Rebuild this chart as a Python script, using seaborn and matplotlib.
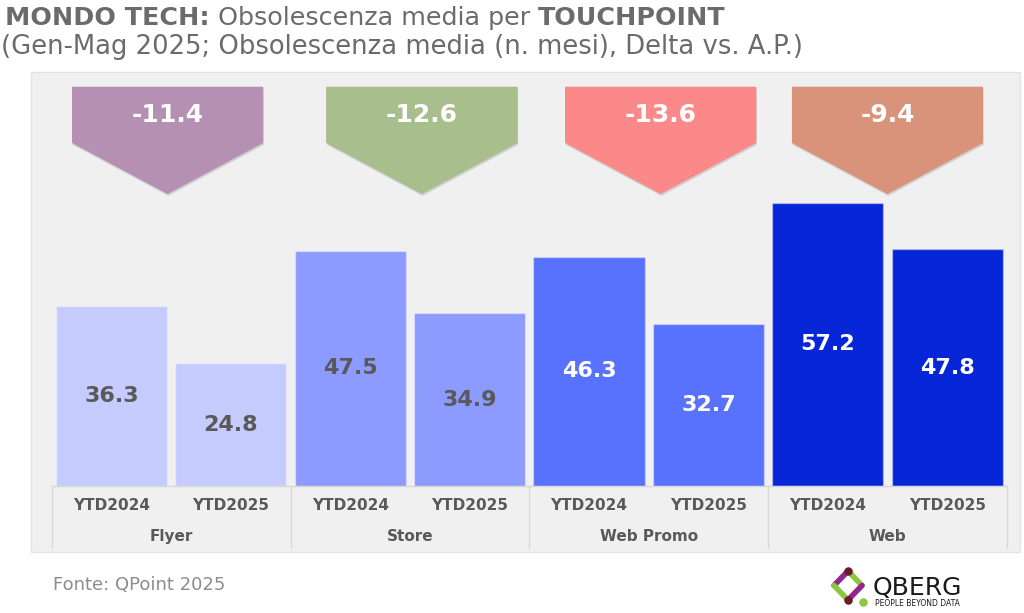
import matplotlib
matplotlib.use("Agg")
import matplotlib.pyplot as plt
import matplotlib.patheffects as pe
from matplotlib.patches import Polygon, Rectangle
import seaborn as sns
import pandas as pd

# dati
touchpoints = ["Flyer", "Store", "Web Promo", "Web"]
periods = ["YTD2024", "YTD2025"]
val_2024 = [36.3, 47.5, 46.3, 57.2]
val_2025 = [24.8, 34.9, 32.7, 47.8]
deltas = [-11.4, -12.6, -13.6, -9.4]

bar_colors = ["#C5CCFD", "#8C9BFD", "#5872FD", "#0626D8"]
arrow_colors = ["#B590B3", "#A8BE8D", "#FB8989", "#D8937A"]
label_colors = ["#595959", "#595959", "white", "white"]

rows = []
for i, tp in enumerate(touchpoints):
    for p, v in zip(periods, [val_2024[i], val_2025[i]]):
        rows.append({"key": f"{tp}|{p}", "touchpoint": tp, "period": p, "value": v})
df = pd.DataFrame(rows)
keys = list(df["key"])
palette = {r["key"]: bar_colors[touchpoints.index(r["touchpoint"])] for r in rows}

sns.set_style("white")
plt.rcParams["font.family"] = ["DejaVu Sans"]

W, H = 1024, 613
fig = plt.figure(figsize=(W / 100, H / 100), dpi=100)
fig.patch.set_facecolor("white")

# pannello grigio
fig.patches.append(Rectangle((31 / W, (H - 552) / H), 989 / W, 480 / H,
                             transform=fig.transFigure, facecolor="#F0F0F0",
                             edgecolor="#E3E3E3", lw=1, zorder=-5))

ax = fig.add_axes([31 / W, (H - 486) / H, 989 / W, 414 / H])
ax.set_facecolor("none")
ax.patch.set_alpha(0)
sns.barplot(data=df, x="key", y="value", hue="key", order=keys, palette=palette,
            saturation=1, width=0.93, legend=False, ax=ax,
            edgecolor=(1, 1, 1, 0.35), linewidth=1)
ax.set_xlim(-0.674, 7.61)
ax.set_ylim(0, 83.6)
ax.set_xticks([])
ax.set_yticks([])
ax.set_xlabel("")
ax.set_ylabel("")
for s in ax.spines.values():
    s.set_visible(False)

# etichette valori
for j, r in df.iterrows():
    ci = touchpoints.index(r["touchpoint"])
    ax.text(j, r["value"] / 2, f"{r['value']:.1f}", ha="center", va="center",
            fontsize=16, fontweight="bold", color=label_colors[ci])

# asse x a due livelli
tr = ax.get_xaxis_transform()
ax.plot([-0.5, 7.5], [0, 0], color="#D6D6D6", lw=1, transform=tr, clip_on=False)
for xs in [-0.5, 1.5, 3.5, 5.5, 7.5]:
    ax.plot([xs, xs], [0, -0.15], color="#D9D9D9", lw=1, transform=tr, clip_on=False)
for j, r in df.iterrows():
    ax.text(j, -0.046, r["period"], ha="center", va="center", fontsize=11,
            fontweight="bold", color="#595959", transform=tr)
for i, tp in enumerate(touchpoints):
    ax.text(2 * i + 0.5, -0.121, tp, ha="center", va="center", fontsize=11,
            fontweight="bold", color="#595959", transform=tr)

# frecce delta
arrow_shift = [-0.03, 0.1, 0.1, 0.0]
for i, d in enumerate(deltas):
    c = 2 * i + 0.5 + arrow_shift[i]
    hw = 0.8
    poly = Polygon([(c - hw, 80.6), (c + hw, 80.6), (c + hw, 69.3), (c, 59.0), (c - hw, 69.3)],
                   closed=True, facecolor=arrow_colors[i], edgecolor="none", zorder=3)
    poly.set_path_effects([pe.withSimplePatchShadow(offset=(0.5, -1.5), shadow_rgbFace="#888888", alpha=0.3),
                           pe.Normal()])
    ax.add_patch(poly)
    ax.text(c, (486 - 115) / 4.95, f"{d:.1f}", ha="center", va="center", fontsize=18,
            fontweight="bold", color="white", zorder=4)

# titolo
renderer = fig.canvas.get_renderer()
def draw_runs(runs, x, y, size, color):
    for txt, weight in runs:
        t = fig.text(x, y, txt, fontsize=size, fontweight=weight, color=color,
                     ha="left", va="center")
        bb = t.get_window_extent(renderer)
        x += bb.width / fig.bbox.width

draw_runs([("MONDO TECH:", "bold"), (" Obsolescenza media per ", "normal"), ("TOUCHPOINT", "bold")],
          5 / W, 1 - 18 / H, 18.3, "#6B6B6B")
fig.text(1 / W, 1 - 47 / H, "(Gen-Mag 2025; Obsolescenza media (n. mesi), Delta vs. A.P.)",
         fontsize=18.6, color="#6B6B6B", ha="left", va="center")

# fonte
fig.text(53 / W, 1 - 585 / H, "Fonte: QPoint 2025", fontsize=13, color="#8C8C8C",
         ha="left", va="center")

# logo QBERG
lx = fig.add_axes([825 / W, 0, 145 / W, 48 / H])
lx.set_xlim(825, 970)
lx.set_ylim(613, 565)
lx.axis("off")
purple, green, dark = "#93278F", "#8DC63F", "#6B1A2A"
top, left, bottom, right = (848, 571), (834, 585.5), (848, 600), (862, 585.5)
for a, b, col in [(left, top, purple), (top, right, green), (left, bottom, green), (right, bottom, purple)]:
    lx.plot([a[0], b[0]], [a[1], b[1]], color=col, lw=4, solid_capstyle="round")
lx.scatter([top[0], bottom[0]], [top[1], bottom[1]], s=26, color=dark, zorder=3)
lx.scatter([863], [602], s=26, color=green, zorder=3)
lx.text(873, 588, "QBERG", fontsize=18, color="#1A1A1A", ha="left", va="center")
lx.text(875, 604, "PEOPLE BEYOND DATA", fontsize=5.5, color="#1A1A1A", ha="left", va="center")

fig.savefig("out.png", dpi=100, facecolor="white")
